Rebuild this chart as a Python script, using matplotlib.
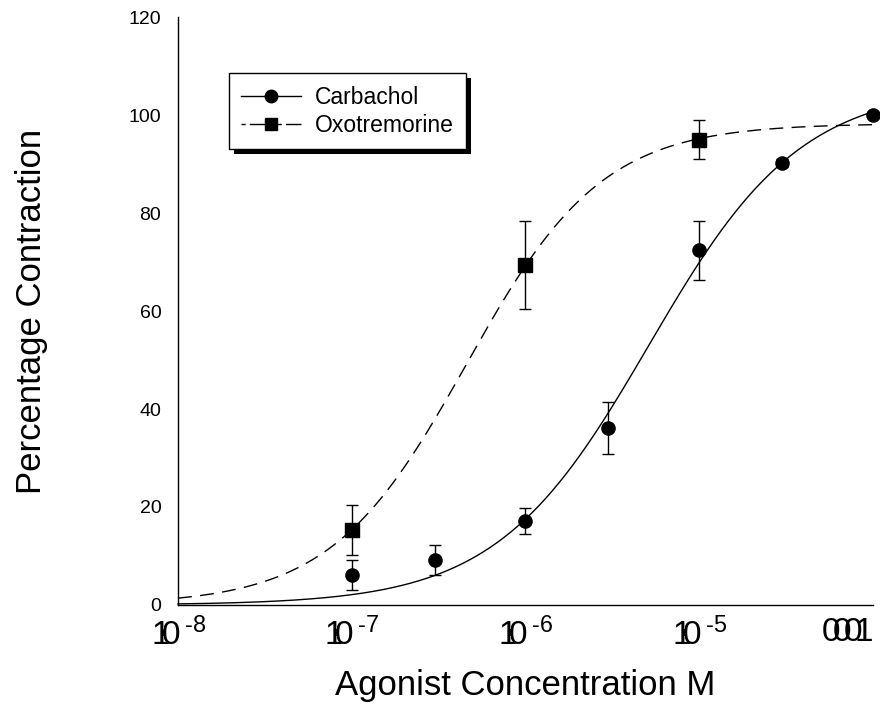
import numpy as np
import matplotlib
matplotlib.use("Agg")
import matplotlib.pyplot as plt
from matplotlib.patches import Rectangle
from matplotlib.lines import Line2D

plt.rcParams['font.family'] = ['Liberation Sans', 'DejaVu Sans']
plt.rcParams['mathtext.fontset'] = 'custom'
plt.rcParams['mathtext.rm'] = 'Liberation Sans'
plt.rcParams['mathtext.it'] = 'Liberation Sans'

# Agonist concentrations (M) and mean responses (% contraction) with SEM
carb_conc = [1e-7, 3e-7, 1e-6, 3e-6, 1e-5, 3e-5, 1e-4]
carb_resp = [6.1, 9.2, 17.1, 36.1, 72.4, 90.3, 100.0]
carb_err = [3.0, 3.0, 2.6, 5.3, 6.0, 0.8, 0.3]

oxo_conc = [1e-7, 1e-6, 1e-5]
oxo_resp = [15.3, 69.4, 95.0]
oxo_err = [5.1, 9.0, 4.0]

x_ticks = [1e-8, 1e-7, 1e-6, 1e-5, 1e-4]
x_ticklabels = [r"$\mathregular{1\hspace{-0.3}0}\hspace{0.15}{}^{\mathregular{\text{-}8}}$",
                r"$\mathregular{1\hspace{-0.3}0}\hspace{0.15}{}^{\mathregular{\text{-}7}}$",
                r"$\mathregular{1\hspace{-0.3}0}\hspace{0.15}{}^{\mathregular{\text{-}6}}$",
                r"$\mathregular{1\hspace{-0.3}0}\hspace{0.15}{}^{\mathregular{\text{-}5}}$",
                r"$\mathregular{0\hspace{-0.27}0\hspace{-0.27}0\hspace{-0.27}1}$"]
y_ticks = [0, 20, 40, 60, 80, 100, 120]


def hill(logx, logec50, n, top):
    return top / (1.0 + 10.0 ** ((logec50 - logx) * n))


def fit_hill(conc, resp):
    """Least-squares fit of a zero-bottom Hill curve (grid over EC50 and slope, linear top)."""
    lx = np.log10(conc)
    y = np.asarray(resp, float)
    best = None
    for le in np.linspace(-8, -4, 401):
        for n in np.linspace(0.5, 2.0, 151):
            shape = 1.0 / (1.0 + 10.0 ** ((le - lx) * n))
            top = np.dot(shape, y) / np.dot(shape, shape)
            sse = np.sum((y - top * shape) ** 2)
            if best is None or sse < best[0]:
                best = (sse, le, n, top)
    return best[1:]


fig = plt.figure(figsize=(8.8, 7.14), dpi=100)
ax = fig.add_axes([0.2023, 0.1527, 0.7897, 0.8233])

xs = np.logspace(-8, -4, 400)
p_carb = fit_hill(carb_conc, carb_resp)
p_oxo = fit_hill(oxo_conc + [3e-5, 1e-4], oxo_resp + [97.5, 98.0])

oxo_dash = (0, (10, 6))
ax.plot(xs, hill(np.log10(xs), *p_carb), color='black', lw=1.0, clip_on=False)
ax.plot(xs, hill(np.log10(xs), *p_oxo), color='black', lw=1.0,
        linestyle=oxo_dash, clip_on=False)

ax.errorbar(carb_conc, carb_resp, yerr=carb_err, fmt='o', color='black',
            ms=9.5, capsize=4, elinewidth=1.0, capthick=1.0, clip_on=False,
            zorder=5)
ax.errorbar(oxo_conc, oxo_resp, yerr=oxo_err, fmt='s', color='black',
            ms=9.5, capsize=4, elinewidth=1.0, capthick=1.0, clip_on=False,
            zorder=5)

ax.set_xscale('log')
ax.set_xlim(1e-8, 1e-4)
ax.set_ylim(0, 120)
ax.set_xticks(x_ticks)
ax.set_xticklabels(x_ticklabels, fontsize=24)
ax.get_xticklabels()[-1].set_horizontalalignment('right')
ax.xaxis.set_minor_locator(matplotlib.ticker.NullLocator())
ax.set_yticks(y_ticks)
ax.set_yticklabels([str(v) for v in y_ticks], fontsize=14)
ax.tick_params(axis='both', length=0)
ax.tick_params(axis='x', pad=9)
ax.tick_params(axis='y', pad=12)
for s in ('top', 'right'):
    ax.spines[s].set_visible(False)
for s in ('left', 'bottom'):
    ax.spines[s].set_linewidth(1.0)

ax.set_xlabel('Agonist Concentration M', fontsize=25, labelpad=12)
ax.set_ylabel('Percentage Contraction', fontsize=25, labelpad=58)

# legend with drop shadow
h_carb = Line2D([], [], color='black', lw=1.0, marker='o', ms=9)
h_oxo = Line2D([], [], color='black', lw=1.0, marker='s', ms=9,
               linestyle=(0, (3, 3, 20, 0)))
leg = ax.legend([h_carb, h_oxo], ['Carbachol', 'Oxotremorine'],
                loc='upper left', bbox_to_anchor=(0.073, 0.905),
                fontsize=16.5, frameon=True, fancybox=False, shadow=False,
                framealpha=1.0, facecolor='white',
                handlelength=2.6, borderpad=0.55, labelspacing=0.22,
                handletextpad=0.6, borderaxespad=0)
leg.get_frame().set_edgecolor('black')
leg.get_frame().set_linewidth(1.0)
leg.set_zorder(10)
fig.canvas.draw()
bb = leg.get_window_extent().transformed(fig.transFigure.inverted())
shadow = Rectangle((bb.x0 + 0.006, bb.y0 - 0.007), bb.width, bb.height,
                   transform=fig.transFigure, facecolor='black',
                   edgecolor='none', zorder=9, clip_on=False)
ax.add_artist(shadow)

fig.savefig('out.png', dpi=100)
